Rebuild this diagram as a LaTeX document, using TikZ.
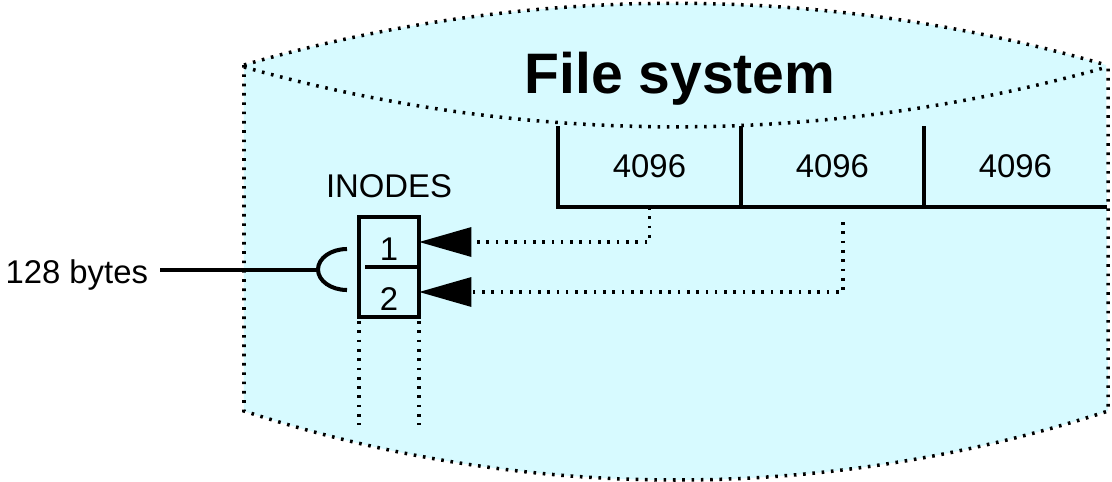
\documentclass[tikz,border=0pt]{standalone}
\usepackage{fontspec}
\setmainfont{Liberation Sans}
\usetikzlibrary{arrows.meta,positioning}
\definecolor{fsfill}{HTML}{D7FAFF}

\begin{document}
\begin{tikzpicture}[
  x=0.02cm, y=-0.02cm,
  txt/.style={font=\fontsize{18.7}{22}\selectfont, inner sep=0pt, outer sep=0pt},
  cell/.style={txt, minimum width=3.66cm, minimum height=1.62cm},
  slot/.style={txt, minimum width=1.2cm, minimum height=1cm, text height=0.74cm, text depth=0pt},
  wall/.style={line width=2.3pt},
  dots/.style={line width=2pt, dash pattern=on 1.5pt off 3.8pt},
  link/.style={dots, -{Triangle[length=1.05cm, width=0.58cm]}}
]
\useasboundingbox (0,0) rectangle (1112,481);
% the cylinder
\fill[fsfill] (244,65) arc[start angle=-106.3, end angle=-73.7, radius=1536]
  -- (1108,411) arc[start angle=71.85, end angle=108.15, radius=1387] -- cycle;
\draw[dots] (244,65) arc[start angle=-106.3, end angle=-73.7, radius=1536];
\draw[dots] (244,67) arc[start angle=105.8, end angle=74.2, radius=1585];
\draw[dots] (244,65) -- (244,411) arc[start angle=108.15, end angle=71.85, radius=1387] -- (1108,67);
\node[font=\fontsize{32.5}{38}\selectfont\bfseries, inner sep=0pt, anchor=base] (title) at (680,93) {File system};

% data blocks
\node[cell] (blk1) at (649.5,166.5) {4096};
\node[cell, right=0pt of blk1] (blk2) {4096};
\node[cell, right=0pt of blk2] (blk3) {4096};
\draw[wall] (blk1.north west) -- (blk1.south west) -- (blk3.south east);
\draw[wall] (blk2.north west) -- (blk2.south west);
\draw[wall] (blk3.north west) -- (blk3.south west);

% inode table
\node[slot] (slot1) at (389,242) {1};
\node[slot, below=0pt of slot1] (slot2) {2};
\node[txt, above=0.38cm of slot1] (inodes) {INODES};
\draw[wall] (slot1.north west) rectangle (slot2.south east);
\draw[wall] ([xshift=0.12cm]slot1.south west) -- (slot1.south east);
\draw[dots] ([yshift=-0.08cm]slot2.south west) -- ++(0,104);
\draw[dots] ([yshift=-0.08cm]slot2.south east) -- ++(0,104);

% block pointers
\coordinate (tap2) at (843,222);
\draw[link] (blk1.south) |- (slot1.east);
\draw[link] (tap2) |- (slot2.east);

% size note
\node[txt, anchor=base east] (bytes) at (148,283) {128 bytes};
\coordinate (cup) at (318,270);
\draw[wall] ([xshift=0.24cm]bytes.east |- cup) -- (cup);
\draw[wall] (347,249) arc[start angle=-90, end angle=-270, x radius=29, y radius=20.5];
\end{tikzpicture}
\end{document}
